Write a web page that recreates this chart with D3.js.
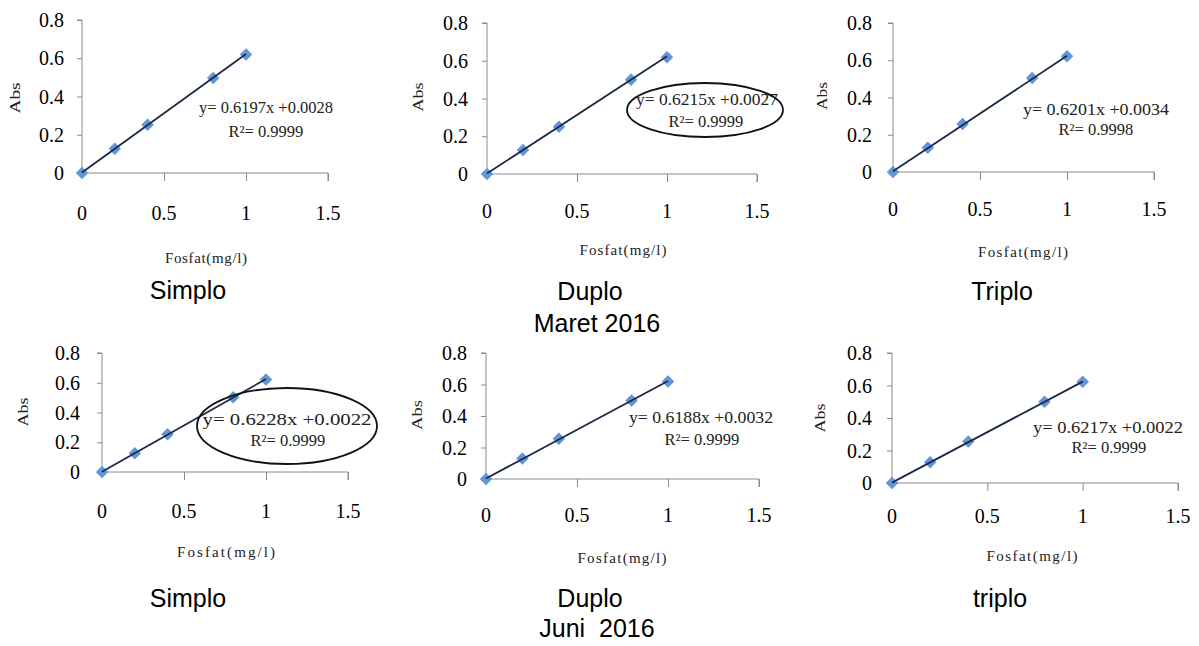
<!DOCTYPE html>
<html>
<head>
<meta charset="utf-8">
<script src="https://cdn.jsdelivr.net/npm/d3@7"></script>
<style>
  html, body { margin: 0; padding: 0; background: #ffffff; }
  svg { display: block; }
</style>
</head>
<body>
<svg id="chart" width="1199" height="646"></svg>
<script>
// ---------------- DATA ----------------
const captions = ["Simplo", "Duplo", "Triplo", "Simplo", "Duplo", "triplo"];
const periods = ["Maret 2016", "Juni  2016"];
const concentration = [0, 0.2, 0.4, 0.8, 1.0];
const absMaretSimplo = [0, 0.127, 0.252, 0.497, 0.620];
const absMaretDuplo  = [0, 0.127, 0.250, 0.500, 0.618];
const absMaretTriplo = [0, 0.130, 0.258, 0.505, 0.622];
const absJuniSimplo  = [0, 0.126, 0.254, 0.503, 0.622];
const absJuniDuplo   = [0, 0.130, 0.256, 0.499, 0.619];
const absJuniTriplo  = [0, 0.127, 0.255, 0.500, 0.623];
const absorbance = [absMaretSimplo, absMaretDuplo, absMaretTriplo, absJuniSimplo, absJuniDuplo, absJuniTriplo];
const slopes     = [0.6197, 0.6215, 0.6201, 0.6228, 0.6188, 0.6217];
const intercepts = [0.0028, 0.0027, 0.0034, 0.0022, 0.0032, 0.0022];
const rSquared   = ["0.9999", "0.9999", "0.9998", "0.9999", "0.9999", "0.9999"];
const circled    = [false, true, false, true, false, false];
const xTicks = [0, 0.5, 1, 1.5];
const yTicks = [0, 0.2, 0.4, 0.6, 0.8];
const xTitle = "Fosfat(mg/l)";
const yTitle = "Abs";

// ---------------- LAYOUT ----------------
const layout = [
  {x0: 82,  x1: 328,  y0: 173, y1: 20,  xlab: 220, ygap: 18, eq: [266, 113, 134], r2: [266, 137], xt: [206, 263, 82], yt: [20, 98, 31],  cap: [188, 299]},
  {x0: 487, x1: 757,  y0: 174, y1: 23,  xlab: 218, ygap: 19, eq: [707, 105, 142], r2: [706, 127], xt: [623, 255, 87], yt: [423, 97, 29], cap: [590, 300], ell: [705, 110, 78, 27]},
  {x0: 893, x1: 1154, y0: 172, y1: 23,  xlab: 216, ygap: 21, eq: [1096, 115, 146], r2: [1096, 135], xt: [1023, 257, 90], yt: [827, 96, 28], cap: [1002, 300]},
  {x0: 102, x1: 348,  y0: 472, y1: 353, xlab: 518, ygap: 22, eq: [287, 425, 169], r2: [288, 446], xt: [226, 557, 98], yt: [28, 412, 29], cap: [188, 607], ell: [287, 426, 90, 38]},
  {x0: 486, x1: 759,  y0: 479, y1: 353, xlab: 522, ygap: 19, eq: [701, 423, 144], r2: [702, 445], xt: [622, 563, 89], yt: [422, 415, 30], cap: [590, 607]},
  {x0: 892, x1: 1178, y0: 483, y1: 353, xlab: 523, ygap: 20, eq: [1108, 433, 150], r2: [1109, 453], xt: [1032, 561, 91], yt: [825, 418, 29], cap: [1000, 607]}
];
const periodPos = [[597, 332], [597, 637]];

const serif = "Liberation Serif";
const sans = "Liberation Sans";
const axisColor = "#8a8a8a";
const markerColor = "#6196d8";
const lineColor = "#1b2a45";

const svg = d3.select("#chart");

layout.forEach((L, i) => {
  const g = svg.append("g");
  const x = d3.scaleLinear().domain([0, 1.5]).range([L.x0, L.x1]);
  const y = d3.scaleLinear().domain([0, 0.8]).range([L.y0, L.y1]);

  // Y axis
  const yAxis = d3.axisLeft(y).tickValues(yTicks).tickSize(5).tickFormat("");
  const ya = g.append("g").attr("transform", `translate(${L.x0},0)`).call(yAxis);
  ya.select(".domain").attr("stroke", axisColor).attr("d", `M-5,${L.y1}H0V${L.y0}`);
  ya.selectAll(".tick line").attr("stroke", axisColor);

  // X axis
  const xAxis = d3.axisBottom(x).tickValues(xTicks).tickSize(8).tickFormat("");
  const xa = g.append("g").attr("transform", `translate(0,${L.y0})`).call(xAxis);
  xa.select(".domain").attr("stroke", axisColor).attr("d", `M${L.x0},0H${L.x1}V8`);
  xa.selectAll(".tick line").attr("stroke", axisColor);
  xa.selectAll(".tick").filter(d => d === 0).select("line").remove();

  // Tick labels
  g.selectAll(".ylab").data(yTicks).enter().append("text")
    .attr("x", L.x0 - L.ygap).attr("y", d => y(d)).attr("dy", "0.35em")
    .attr("text-anchor", "end").style("font-family", serif).style("font-size", "20px")
    .attr("fill", "#000").text(d => d3.format("")(d));
  g.selectAll(".xlab").data(xTicks).enter().append("text")
    .attr("x", d => x(d)).attr("y", L.xlab)
    .attr("text-anchor", "middle").style("font-family", serif).style("font-size", "20px")
    .attr("fill", "#000").text(d => d3.format("")(d));

  // Axis titles
  g.append("text").attr("x", L.xt[0]).attr("y", L.xt[1])
    .attr("text-anchor", "middle").style("font-family", serif).style("font-size", "15px")
    .attr("textLength", L.xt[2]).attr("lengthAdjust", "spacing")
    .attr("fill", "#222").text(xTitle);
  g.append("text").attr("transform", `translate(${L.yt[0]},${L.yt[1]}) rotate(-90)`)
    .attr("text-anchor", "middle").style("font-family", serif).style("font-size", "15px")
    .attr("textLength", L.yt[2]).attr("lengthAdjust", "spacingAndGlyphs")
    .attr("fill", "#222").text(yTitle);

  const xs = [0, 1];
  const trend = d3.line().x(d => x(d)).y(d => y(slopes[i] * d + intercepts[i]));

  // Markers
  const pts = concentration.map((c, k) => [c, absorbance[i][k]]);
  g.selectAll(".pt").data(pts).enter().append("path")
    .attr("transform", d => `translate(${x(d[0])},${y(d[1])})`)
    .attr("d", d3.symbol(d3.symbolDiamond2, 100))
    .attr("fill", markerColor);

  // Trend line on top
  g.append("path").datum(xs).attr("d", trend)
    .attr("stroke", lineColor).attr("stroke-width", 1.8).attr("fill", "none");

  // Equation
  g.append("text").attr("x", L.eq[0]).attr("y", L.eq[1])
    .attr("text-anchor", "middle").style("font-family", serif).style("font-size", "16.5px")
    .attr("textLength", L.eq[2]).attr("lengthAdjust", "spacingAndGlyphs")
    .attr("fill", "#222")
    .text(`y= ${slopes[i].toFixed(4)}x +${intercepts[i].toFixed(4)}`);
  g.append("text").attr("x", L.r2[0]).attr("y", L.r2[1])
    .attr("text-anchor", "middle").style("font-family", serif).style("font-size", "16.5px")
    .attr("fill", "#222")
    .text(`R²= ${rSquared[i]}`);

  if (circled[i] && L.ell) {
    g.append("ellipse").attr("cx", L.ell[0]).attr("cy", L.ell[1])
      .attr("rx", L.ell[2]).attr("ry", L.ell[3])
      .attr("fill", "none").attr("stroke", "#111").attr("stroke-width", 1.8);
  }

  // Caption
  svg.append("text").attr("x", L.cap[0]).attr("y", L.cap[1])
    .attr("text-anchor", "middle").style("font-family", sans).style("font-size", "25px")
    .attr("fill", "#000").text(captions[i]);
});

periods.forEach((p, k) => {
  svg.append("text").attr("x", periodPos[k][0]).attr("y", periodPos[k][1])
    .attr("text-anchor", "middle").style("font-family", sans).style("font-size", "25px")
    .attr("fill", "#000").style("white-space", "pre").text(p);
});
</script>
</body>
</html>
